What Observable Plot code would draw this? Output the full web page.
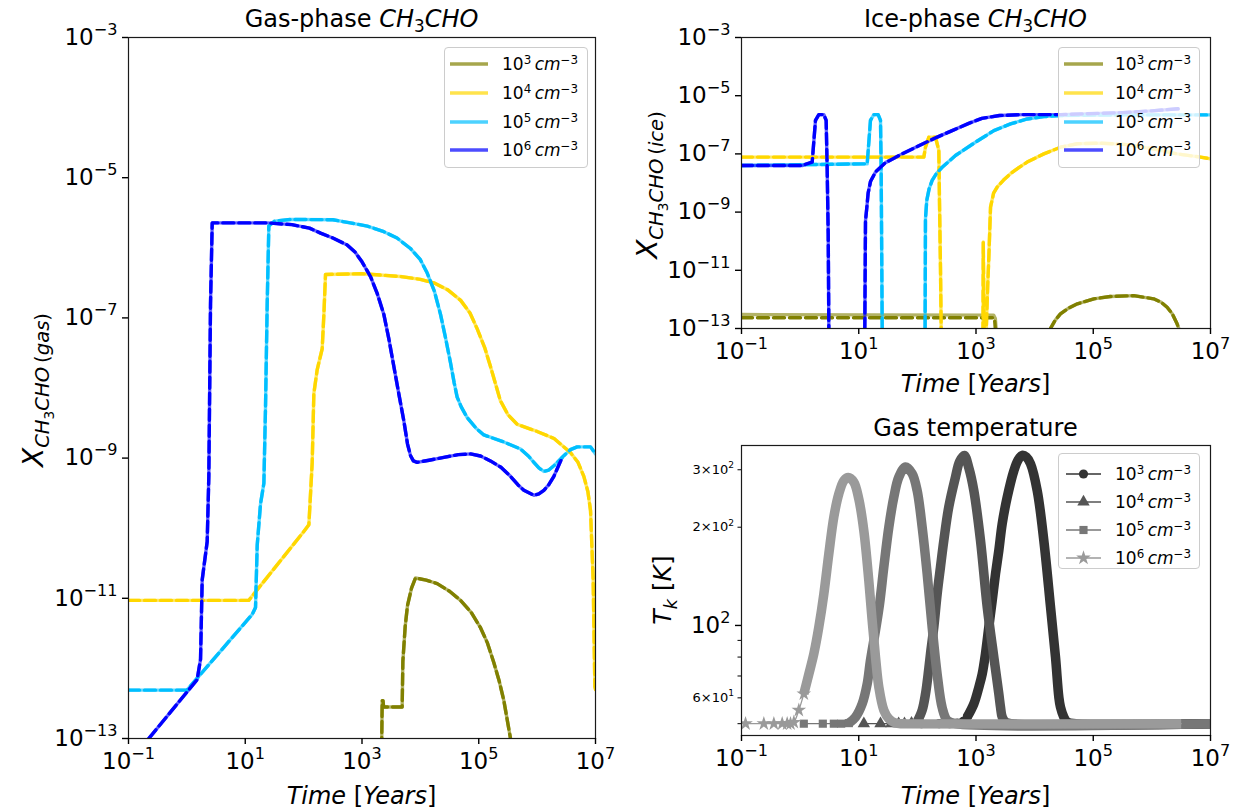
<!DOCTYPE html>
<html>
<head>
<meta charset="utf-8">
<script src="https://cdn.jsdelivr.net/npm/d3@7"></script>
<script src="https://cdn.jsdelivr.net/npm/@observablehq/plot@0.6"></script>
<style>
html,body{margin:0;padding:0;background:#fff;}
#root{position:relative;width:1246px;height:810px;overflow:hidden;font-family:"DejaVu Sans",sans-serif;color:#000;}
.txt{position:absolute;white-space:nowrap;line-height:1;transform:translate(-50%,-50%);}
.rot{transform:translate(-50%,-50%) rotate(-90deg);}
.sub{font-size:0.7em;position:relative;top:0.32em;}
.sup{font-size:0.7em;position:relative;top:-0.5em;}
.legend{position:absolute;background:rgba(255,255,255,0.8);border:1px solid #cccccc;border-radius:4px;box-sizing:border-box;}
.ltext{position:absolute;font-size:17px;white-space:nowrap;line-height:1;transform:translateY(-50%);}
.lsvg{position:absolute;overflow:visible;}
</style>
</head>
<body>
<div id="root"></div>
<script>
// ---------------- DATA (log10 values) ----------------
const densityExponents = [3, 4, 5, 6];
const xTicks = [0.1, 10, 1e3, 1e5, 1e7];
const chemYTicks = [1e-13, 1e-11, 1e-9, 1e-7, 1e-5, 1e-3];
const tempMajorTicks = [100];
const tempMinorTicks = [50, 60, 70, 80, 90, 200, 300];
const tempMinorLabelled = [60, 200, 300];

// Gas-phase CH3CHO: [log10 time (yr), log10 abundance]
const gas1e3 = [[3.33,-13.6],[3.346,-12.46],[3.36,-12.46],[3.37,-12.55],[3.688,-12.55],[3.70,-11.9],[3.74,-11.4],[3.78,-11.1],[3.85,-10.85],[3.917,-10.71],[4.1,-10.74],[4.288,-10.79],[4.5,-10.9],[4.688,-11.03],[4.87,-11.2],[5.03,-11.42],[5.15,-11.64],[5.259,-11.92],[5.35,-12.18],[5.43,-12.46],[5.544,-13.0],[5.6,-13.4]];
const gas1e4 = [[-1,-11.03],[1.06,-11.03],[2.0,-10.05],[2.09,-9.95],[2.147,-9.06],[2.175,-8.08],[2.232,-7.74],[2.318,-7.44],[2.347,-6.95],[2.375,-6.38],[3.0,-6.37],[3.66,-6.41],[4.0,-6.45],[4.23,-6.5],[4.47,-6.6],[4.69,-6.75],[4.85,-6.93],[4.97,-7.15],[5.1,-7.42],[5.2,-7.69],[5.37,-8.18],[5.5,-8.38],[5.66,-8.52],[6.0,-8.62],[6.29,-8.72],[6.57,-8.92],[6.7,-9.06],[6.8,-9.26],[6.87,-9.48],[6.915,-9.75],[6.96,-10.74],[6.989,-12.26],[7.0,-12.3]];
const gas1e5 = [[-1,-12.31],[0.0,-12.31],[1.119,-11.23],[1.176,-11.13],[1.205,-10.24],[1.262,-9.65],[1.319,-9.36],[1.347,-8.28],[1.376,-6.80],[1.404,-5.69],[1.5,-5.62],[1.78,-5.595],[2.5,-5.6],[2.8,-5.645],[3.09,-5.69],[3.374,-5.77],[3.6,-5.86],[3.83,-6.01],[4.0,-6.17],[4.117,-6.36],[4.24,-6.62],[4.345,-6.95],[4.43,-7.28],[4.516,-7.64],[4.58,-7.93],[4.63,-8.13],[4.7,-8.27],[4.8,-8.42],[4.95,-8.57],[5.087,-8.67],[5.43,-8.77],[5.716,-8.87],[5.85,-8.97],[5.944,-9.06],[6.03,-9.14],[6.115,-9.19],[6.2,-9.17],[6.287,-9.11],[6.458,-8.965],[6.57,-8.88],[6.686,-8.84],[6.915,-8.84],[7.0,-8.94]];
const gas1e6 = [[-1,-13.35],[-0.652,-13.0],[0.176,-12.16],[0.234,-11.87],[0.262,-10.74],[0.348,-10.19],[0.376,-9.26],[0.405,-6.80],[0.434,-5.645],[1.376,-5.645],[1.8,-5.67],[2.1,-5.72],[2.29,-5.79],[2.5,-5.86],[2.746,-5.96],[2.88,-6.06],[3.0,-6.2],[3.146,-6.41],[3.26,-6.65],[3.374,-6.95],[3.46,-7.3],[3.545,-7.69],[3.63,-8.08],[3.717,-8.47],[3.78,-8.8],[3.831,-8.965],[3.88,-9.04],[3.945,-9.06],[4.15,-9.03],[4.402,-8.99],[4.65,-8.95],[4.859,-8.94],[5.03,-8.97],[5.2,-9.04],[5.38,-9.13],[5.544,-9.26],[5.67,-9.38],[5.773,-9.46],[5.944,-9.53],[6.03,-9.51],[6.115,-9.46],[6.2,-9.38],[6.287,-9.26],[6.43,-8.99]];

// Ice-phase CH3CHO
const ice1e3 = [[-1,-12.52],[3.30,-12.54],[3.33,-12.66],[3.35,-13.2],[3.37,-14],[4.2,-14],[4.27,-13.0],[4.35,-12.72],[4.44,-12.5],[4.58,-12.3],[4.73,-12.15],[5.01,-11.98],[5.29,-11.9],[5.69,-11.87],[6.03,-11.98],[6.16,-12.1],[6.26,-12.27],[6.35,-12.5],[6.43,-12.84],[6.46,-13.0],[6.48,-14]];
const ice1e3Dashed = [[-1,-12.63],[3.30,-12.63],[3.32,-12.76],[3.34,-13.3],[3.36,-14],[4.2,-14],[4.27,-13.0],[4.35,-12.72],[4.44,-12.5],[4.58,-12.3],[4.73,-12.15],[5.01,-11.98],[5.29,-11.9],[5.69,-11.87],[6.03,-11.98],[6.16,-12.1],[6.26,-12.27],[6.35,-12.5],[6.43,-12.84],[6.46,-13.0],[6.48,-14]];
const ice1e4 = [[-1,-7.11],[2.11,-7.11],[2.138,-6.77],[2.195,-6.425],[2.309,-6.425],[2.366,-6.88],[2.377,-8.6],[2.394,-10.89],[2.406,-13.0],[2.41,-14],[3.118,-14],[3.124,-10.03],[3.14,-13.5],[3.16,-14],[3.2,-11.5],[3.219,-10.55],[3.248,-8.83],[3.30,-8.35],[3.361,-8.14],[3.47,-7.9],[3.589,-7.68],[3.73,-7.47],[3.873,-7.28],[4.157,-7.0],[4.442,-6.77],[4.726,-6.65],[5.124,-6.63],[5.579,-6.68],[6.034,-6.83],[6.431,-7.0],[6.83,-7.11],[7.0,-7.17]];
const ice1e5 = [[-1,-7.40],[1.144,-7.34],[1.2,-5.85],[1.257,-5.65],[1.331,-5.65],[1.371,-5.85],[1.382,-7.46],[1.4,-13.0],[1.41,-14],[2.13,-14],[2.138,-9.23],[2.16,-8.6],[2.2,-8.2],[2.252,-7.91],[2.33,-7.66],[2.423,-7.46],[2.65,-7.055],[2.99,-6.6],[3.305,-6.2],[3.589,-5.97],[3.873,-5.8],[4.157,-5.72],[4.442,-5.68],[5.5,-5.66],[7.0,-5.66]];
const ice1e6 = [[-1,-7.40],[0.035,-7.40],[0.206,-7.28],[0.262,-5.85],[0.319,-5.65],[0.405,-5.65],[0.444,-5.85],[0.461,-7.46],[0.479,-9.75],[0.49,-13.0],[0.5,-14],[1.10,-14],[1.115,-9.3],[1.135,-8.9],[1.16,-8.35],[1.2,-7.95],[1.286,-7.62],[1.456,-7.3],[1.74,-7.0],[2.025,-6.72],[2.309,-6.45],[2.593,-6.2],[2.877,-5.95],[3.1,-5.78],[3.4,-5.68],[3.8,-5.65],[4.442,-5.65],[5.5,-5.58],[6.0,-5.52],[6.45,-5.45]];

// Gas temperature: [log10 time (yr), T (K)]
const temp1e3 = [[2.07,50],[2.37,50],[2.55,50],[2.68,50.2],[2.78,50.8],[2.85,52.4],[2.963,57.5],[3.049,64.7],[3.106,71],[3.162,82],[3.219,99],[3.276,119],[3.333,144],[3.39,170],[3.447,205],[3.532,247],[3.646,298],[3.72,322],[3.788,332],[3.86,328],[3.93,313],[4.044,259],[4.157,182],[4.271,114],[4.356,80],[4.413,60.3],[4.441,56.2],[4.498,52.4],[4.555,50.6],[4.7,50],[7.0,50]];
const temp1e4 = [[1.087,50],[1.371,50],[1.556,50],[1.68,50],[1.78,50],[1.9,50.2],[2.0,50.8],[2.082,55],[2.139,61.7],[2.184,71],[2.224,81.9],[2.281,98.9],[2.338,125],[2.394,151],[2.451,182],[2.536,231],[2.65,285],[2.72,318],[2.80,332],[2.88,303],[2.963,259],[3.077,182],[3.191,114],[3.304,80],[3.39,61.6],[3.418,56.2],[3.447,52.4],[3.503,50.6],[3.6,50],[7.0,50]];
const temp1e5 = [[0.063,50],[0.387,50],[0.575,50],[0.70,50],[0.831,50.2],[0.945,52.4],[1.058,57.5],[1.144,66.2],[1.2,78.2],[1.286,96.6],[1.354,116],[1.428,151],[1.513,200],[1.598,247],[1.684,285],[1.797,306],[1.911,292],[1.996,259],[2.082,200],[2.167,144],[2.252,98.8],[2.337,71],[2.423,56],[2.508,51.2],[2.65,50],[7.0,50]];
const temp1e6 = [[-0.931,50],[-0.619,50],[-0.448,50],[-0.306,50],[-0.221,50],[-0.164,50],[-0.107,50.5],[-0.022,55],[0.063,61.7],[0.149,71],[0.234,81.9],[0.319,98.9],[0.405,125],[0.49,166],[0.575,215],[0.66,253],[0.746,278],[0.82,284],[0.916,275],[1.001,244],[1.087,195],[1.172,137],[1.229,103.5],[1.286,80],[1.343,64.7],[1.428,55],[1.513,51.8],[1.627,50.2],[1.8,50],[6.5,50]];
// log10 time from which markers merge into a continuous band
const tempBandFrom = [2.83, 1.99, 0.80, 0.05];

// ---------------- STYLE ----------------
const chemColors = ["#808000", "#ffd700", "#00bfff", "#0000ff"];
const tempColors = ["#333333", "#555555", "#777777", "#9a9a9a"];
const tempSymbols = ["circle", "triangle", "square", "star"];
const SVGNS = "http://www.w3.org/2000/svg";
const root = document.getElementById("root");
const TICK_FONT = 23;

function fmtPow(d) {
  const e = Math.round(Math.log10(d));
  return "10^" + (e < 0 ? "\u2212" + (-e) : String(e));
}
function fmtMinor(d) {
  if (!tempMinorLabelled.includes(d)) return "";
  const e = Math.floor(Math.log10(d) + 1e-9);
  const m = Math.round(d / 10 ** e);
  return m + "\u00d710^" + e;
}
function supify(svg) {
  svg.querySelectorAll("text").forEach(t => {
    if (t.querySelector("tspan")) return;
    const s = t.textContent;
    const i = s.indexOf("^");
    if (i < 0) return;
    t.textContent = "";
    const a = document.createElementNS(SVGNS, "tspan");
    a.textContent = s.slice(0, i);
    const b = document.createElementNS(SVGNS, "tspan");
    b.textContent = s.slice(i + 1);
    b.setAttribute("font-size", "0.7em");
    b.setAttribute("dy", "-0.62em");
    t.append(a, b);
    t.setAttribute("font-size", s.includes("\u00d7") ? "13px" : TICK_FONT + "px");
  });
}
const X = d => 10 ** d[0];
const Y = d => 10 ** d[1];

function chemPlot(w, h, ml, mr, mt, mb, solids, dashes) {
  const marks = [];
  solids.forEach((s, i) => marks.push(Plot.line(s, {x: X, y: Y, stroke: chemColors[i], strokeWidth: 3.4, strokeOpacity: 0.6, strokeLinejoin: "round", clip: true})));
  dashes.forEach((s, i) => marks.push(Plot.line(s, {x: X, y: Y, stroke: chemColors[i], strokeWidth: 3.4, strokeOpacity: 1, strokeDasharray: "11,5", strokeLinejoin: "round", clip: true})));
  marks.push(Plot.frame({stroke: "#1a1a1a", strokeWidth: 1.2}));
  marks.push(Plot.axisX({ticks: xTicks, tickFormat: fmtPow, tickSize: 6, tickPadding: 8, strokeWidth: 1.4, label: null}));
  marks.push(Plot.axisY({ticks: chemYTicks, tickFormat: fmtPow, tickSize: 6, tickPadding: 5, strokeWidth: 1.4, label: null}));
  const svg = Plot.plot({
    width: w, height: h, marginLeft: ml, marginRight: mr, marginTop: mt, marginBottom: mb,
    x: {type: "log", domain: [0.1, 1e7]},
    y: {type: "log", domain: [1e-13, 1e-3]},
    style: {fontFamily: "DejaVu Sans", fontSize: TICK_FONT + "px", color: "#000", background: "none", overflow: "visible"},
    marks
  });
  supify(svg);
  return svg;
}

function tempPlot() {
  const marks = [];
  const series = [temp1e3, temp1e4, temp1e5, temp1e6];
  series.forEach((s, i) => {
    marks.push(Plot.line(s, {x: X, y: d => d[1], stroke: tempColors[i], strokeWidth: 1.3, curve: "catmull-rom", clip: true}));
    const dense = s.filter(d => d[0] >= tempBandFrom[i]);
    marks.push(Plot.line(dense, {x: X, y: d => d[1], stroke: tempColors[i], strokeWidth: 9.5, strokeLinejoin: "round", strokeLinecap: "butt", curve: "catmull-rom", clip: true}));
    const sparse = s.filter(d => d[0] < tempBandFrom[i] + 0.05);
    marks.push(Plot.dot(sparse, {x: X, y: d => d[1], symbol: tempSymbols[i], r: 4.6, fill: tempColors[i], stroke: "none", clip: true}));
  });
  marks.push(Plot.frame({stroke: "#1a1a1a", strokeWidth: 1.2}));
  marks.push(Plot.axisX({ticks: xTicks, tickFormat: fmtPow, tickSize: 6, tickPadding: 8, strokeWidth: 1.4, label: null}));
  marks.push(Plot.axisY({ticks: tempMajorTicks, tickFormat: fmtPow, tickSize: 6, tickPadding: 5, strokeWidth: 1.4, label: null}));
  marks.push(Plot.axisY({ticks: tempMinorTicks, tickFormat: fmtMinor, tickSize: 3.5, tickPadding: 4, strokeWidth: 1, label: null}));
  const svg = Plot.plot({
    width: 626, height: 410, marginLeft: 121, marginRight: 36, marginTop: 45, marginBottom: 75,
    x: {type: "log", domain: [0.1, 1e7]},
    y: {type: "log", domain: [46.0, 356]},
    style: {fontFamily: "DejaVu Sans", fontSize: TICK_FONT + "px", color: "#000", background: "none", overflow: "visible"},
    marks
  });
  supify(svg);
  return svg;
}

function placeSvg(svg, left, top) {
  svg.style.position = "absolute";
  svg.style.left = left + "px";
  svg.style.top = top + "px";
  root.appendChild(svg);
}
function addText(html, x, y, size, rot) {
  const d = document.createElement("div");
  d.className = "txt" + (rot ? " rot" : "");
  d.style.left = x + "px";
  d.style.top = y + "px";
  d.style.fontSize = size + "px";
  d.innerHTML = html;
  root.appendChild(d);
}
function densityLabel(e) {
  return `10<span class="sup">${e}</span>&thinsp;<i>cm</i><span class="sup">\u22123</span>`;
}
function chemLegend(left, top, w, h, rowYs, hx0, hx1, tx) {
  const box = document.createElement("div");
  box.className = "legend";
  Object.assign(box.style, {left: left + "px", top: top + "px", width: w + "px", height: h + "px"});
  root.appendChild(box);
  const s = document.createElementNS(SVGNS, "svg");
  s.setAttribute("class", "lsvg");
  s.setAttribute("width", w); s.setAttribute("height", h);
  s.style.left = "0px"; s.style.top = "0px";
  box.appendChild(s);
  densityExponents.forEach((e, i) => {
    const l = document.createElementNS(SVGNS, "line");
    l.setAttribute("x1", hx0); l.setAttribute("x2", hx1);
    l.setAttribute("y1", rowYs[i]); l.setAttribute("y2", rowYs[i]);
    l.setAttribute("stroke", chemColors[i]); l.setAttribute("stroke-width", 3.4); l.setAttribute("stroke-opacity", 0.7);
    s.appendChild(l);
    const t = document.createElement("div");
    t.className = "ltext";
    t.style.left = tx + "px"; t.style.top = rowYs[i] + "px";
    t.innerHTML = densityLabel(e);
    box.appendChild(t);
  });
}
function tempLegend(left, top, w, h, rowYs, hx0, hx1, tx) {
  const box = document.createElement("div");
  box.className = "legend";
  Object.assign(box.style, {left: left + "px", top: top + "px", width: w + "px", height: h + "px"});
  root.appendChild(box);
  const symMap = {circle: d3.symbolCircle, triangle: d3.symbolTriangle, square: d3.symbolSquare, star: d3.symbolStar};
  const s = document.createElementNS(SVGNS, "svg");
  s.setAttribute("class", "lsvg");
  s.setAttribute("width", w); s.setAttribute("height", h);
  s.style.left = "0px"; s.style.top = "0px";
  box.appendChild(s);
  densityExponents.forEach((e, i) => {
    const l = document.createElementNS(SVGNS, "line");
    l.setAttribute("x1", hx0); l.setAttribute("x2", hx1);
    l.setAttribute("y1", rowYs[i]); l.setAttribute("y2", rowYs[i]);
    l.setAttribute("stroke", tempColors[i]); l.setAttribute("stroke-width", 1.3);
    s.appendChild(l);
    const p = document.createElementNS(SVGNS, "path");
    p.setAttribute("d", d3.symbol(symMap[tempSymbols[i]], Math.PI * 4.6 * 4.6)());
    p.setAttribute("transform", `translate(${(hx0 + hx1) / 2},${rowYs[i]})`);
    p.setAttribute("fill", tempColors[i]);
    s.appendChild(p);
    const t = document.createElement("div");
    t.className = "ltext";
    t.style.left = tx + "px"; t.style.top = rowYs[i] + "px";
    t.innerHTML = densityLabel(e);
    box.appendChild(t);
  });
}

// ---------------- BUILD ----------------
placeSvg(chemPlot(620, 810, 128, 25, 37, 72, [gas1e3, gas1e4, gas1e5, gas1e6], [gas1e3, gas1e4, gas1e5, gas1e6]), 0, 0);
placeSvg(chemPlot(626, 400, 121, 36, 37, 72, [ice1e3, ice1e4, ice1e5, ice1e6], [ice1e3Dashed, ice1e4, ice1e5, ice1e6]), 620, 0);
placeSvg(tempPlot(), 620, 400);

const chemTitle = `<i>CH</i><span class="sub">3</span><i>CHO</i>`;
addText(`Gas-phase ${chemTitle}`, 361.5, 19, 24);
addText(`Ice-phase ${chemTitle}`, 975.5, 19, 24);
addText(`Gas temperature`, 975.5, 428, 24);
const timeLabel = `<i>Time</i> [<i>Years</i>]`;
addText(timeLabel, 361.5, 796, 24);
addText(timeLabel, 975.5, 384, 24);
addText(timeLabel, 975.5, 796, 24);
addText(`<i>X</i><span class="sub"><i>CH</i><span class="sub">3</span><i>CHO</i>&thinsp;(<i>gas</i>)</span>`, 34, 390, 28, true);
addText(`<i>X</i><span class="sub"><i>CH</i><span class="sub">3</span><i>CHO</i>&thinsp;(<i>ice</i>)</span>`, 648, 185, 28, true);
addText(`<i>T</i><span class="sub"><i>k</i></span> [<i>K</i>]`, 662, 590, 25, true);

chemLegend(444, 47, 144, 121, [16, 45, 74, 102], 5, 43, 57);
chemLegend(1058, 47, 142, 121, [16, 45, 74, 102], 5, 44, 56);
tempLegend(1058, 453, 142, 116, [20, 48, 76, 104], 7, 42, 56);
</script>
</body>
</html>
